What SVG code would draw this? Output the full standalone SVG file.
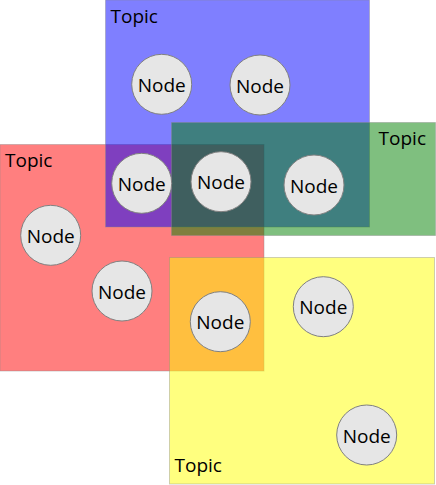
<svg xmlns="http://www.w3.org/2000/svg" width="436" height="485" viewBox="0 0 436 485">
<style>
.topic{stroke:#888;stroke-opacity:0.4;stroke-width:1}
.lbl{font-family:"Open Sans",sans-serif;font-size:19px;fill:#000}
.node circle{fill:#e6e6e6;stroke:#808080;stroke-width:1}
.node text{font-family:"Open Sans",sans-serif;font-size:19px;fill:#000;text-anchor:middle}
</style>
<g id="topic-red"><rect class="topic" x="0" y="144.5" width="264" height="226.5" fill="#ff0000" fill-opacity="0.5"/><text class="lbl" x="5" y="166.5">Topic</text></g>
<g id="topic-blue"><rect class="topic" x="105.5" y="0" width="264" height="227" fill="#0000ff" fill-opacity="0.5"/><text class="lbl" x="110.5" y="22.5">Topic</text></g>
<g id="topic-green"><rect class="topic" x="171.5" y="122.5" width="264" height="113" fill="#008000" fill-opacity="0.5"/><text class="lbl" x="426" y="145" text-anchor="end">Topic</text></g>
<g id="topic-yellow"><rect class="topic" x="169.5" y="257.5" width="265" height="226.5" fill="#ffff00" fill-opacity="0.5"/><text class="lbl" x="174.5" y="471.5">Topic</text></g>
<g id="connectors"></g>
<g id="n1" class="node"><circle cx="161.7" cy="84.3" r="30"/><text x="161.7" y="92">Node</text></g>
<g id="n2" class="node"><circle cx="260" cy="85" r="30"/><text x="260" y="92.7">Node</text></g>
<g id="n3" class="node"><circle cx="141.7" cy="183.3" r="30"/><text x="141.7" y="191">Node</text></g>
<g id="n4" class="node"><circle cx="221" cy="181.7" r="30"/><text x="221" y="189.4">Node</text></g>
<g id="n5" class="node"><circle cx="314" cy="185" r="30"/><text x="314" y="192.7">Node</text></g>
<g id="n6" class="node"><circle cx="50.7" cy="235.3" r="30"/><text x="50.7" y="243">Node</text></g>
<g id="n7" class="node"><circle cx="122" cy="291" r="30"/><text x="122" y="298.7">Node</text></g>
<g id="n8" class="node"><circle cx="220.3" cy="321.7" r="30"/><text x="220.3" y="329.4">Node</text></g>
<g id="n9" class="node"><circle cx="323.3" cy="306.7" r="30"/><text x="323.3" y="314.4">Node</text></g>
<g id="n10" class="node"><circle cx="366.7" cy="435" r="30"/><text x="366.7" y="442.7">Node</text></g>
</svg>
